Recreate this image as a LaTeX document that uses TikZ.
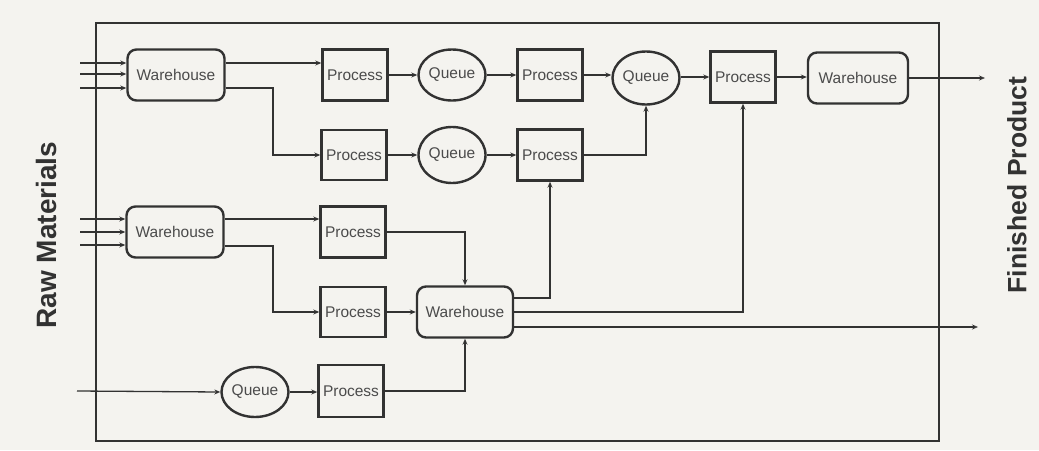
\documentclass[tikz,border=0pt]{standalone}
\usepackage{fontspec}
\setmainfont{Liberation Sans}
\usetikzlibrary{arrows.meta,shapes.geometric,calc}
\definecolor{paper}{RGB}{244,243,239}
\definecolor{ink}{RGB}{50,50,50}
\definecolor{txt}{RGB}{75,75,75}
\tikzset{
  box/.style={draw=ink, line width=2.4pt, text=txt, inner sep=0pt,
    font=\fontsize{15.5}{17}\selectfont},
  procbox/.style={box, rectangle, minimum width=65pt, minimum height=51pt},
  whbox/.style={box, rectangle, rounded corners=9pt, minimum width=97pt, minimum height=51pt},
  qbox/.style={box, ellipse, minimum width=67pt, minimum height=51pt},
  arr/.style={draw=ink, line width=1.9pt, -{Stealth[open,length=6pt,width=5pt,line width=0.8pt]}},
  thinarr/.style={arr, line width=1.3pt},
  sidelabel/.style={text=ink, font=\fontsize{28}{30}\selectfont\bfseries, rotate=90}
}
\begin{document}
\begin{tikzpicture}[x=1pt,y=-1pt]
\fill[paper] (0,0) rectangle (1039,450);
\useasboundingbox (0,0) rectangle (1039,450);
% frame
\draw[ink, line width=2.4pt] (96,23) rectangle (939,441);
% side labels
\node[sidelabel] (raw) at (46,235) {Raw Materials};
\node[sidelabel, font=\fontsize{26.5}{30}\selectfont\bfseries] (fin) at (1017,185) {Finished Product};
% nodes
\node[whbox] (w1) at (176,75) {Warehouse};
\node[whbox] (w2) at (175,232) {Warehouse};
\node[whbox, minimum width=96pt] (w3) at (465,312) {Warehouse};
\node[whbox, minimum width=100pt] (w4) at (858,78) {Warehouse};
\node[procbox] (p1) at (355,75) {Process};
\node[qbox] (q1) at (452,75) {Queue};
\node[procbox] (p2) at (550,75) {Process};
\node[qbox, minimum height=53pt] (q2) at (646,78) {Queue};
\node[procbox] (p3) at (743,77) {Process};
\node[procbox, minimum height=50pt] (p4) at (354,155) {Process};
\node[qbox, minimum height=56pt] (q3) at (452,155) {Queue};
\node[procbox] (p5) at (550,155) {Process};
\node[procbox] (p6) at (353,232) {Process};
\node[procbox, minimum height=50pt] (p7) at (353,312) {Process};
\node[procbox, minimum height=52pt] (p8) at (351,391) {Process};
\node[qbox, minimum height=50pt] (q4) at (255,392) {Queue};
% free ends
\coordinate (i1) at (80,63);
\coordinate (i2) at (80,74);
\coordinate (i3) at (80,88);
\coordinate (i4) at (80,219);
\coordinate (i5) at (80,232);
\coordinate (i6) at (80,245);
\coordinate (i7) at (77,391);
\coordinate (o1) at (985,78);
\coordinate (o2) at (978,327);
% inputs
\draw[thinarr] (i1) -- (i1 -| w1.west);
\draw[thinarr] (i2) -- (i2 -| w1.west);
\draw[thinarr] (i3) -- (i3 -| w1.west);
\draw[thinarr] (i4) -- (i4 -| w2.west);
\draw[thinarr] (i5) -- (i5 -| w2.west);
\draw[thinarr] (i6) -- (i6 -| w2.west);
\draw[thinarr] (i7) -- (q4.west);
% top rows
\draw[arr] ([yshift=12pt]w1.east) -- ([yshift=12pt]p1.west);
\draw[arr] ([yshift=-13pt]w1.east) -- ++(47,0) |- (p4.west);
\draw[arr] (p1) -- (q1);
\draw[arr] (q1) -- (p2);
\draw[arr] (p2.east) -- (p2.east -| q2.west);
\draw[arr] (q2.east |- p3.west) -- (p3.west);
\draw[arr] (p3.east) -- (p3.east -| w4.west);
\draw[thinarr] (w4.east) -- (o1);
\draw[arr] (p4) -- (q3);
\draw[arr] (q3) -- (p5);
\draw[arr] (p5.east) -| (q2.south);
% middle and bottom
\draw[arr] ([yshift=13pt]w2.east) -- ([yshift=13pt]p6.west);
\draw[arr] ([yshift=-14pt]w2.east) -- ++(48,0) |- (p7.west);
\draw[arr] (p6.east) -| (w3.north);
\draw[arr] (p7.east) -- (w3.west);
\draw[arr] (p8.east) -| (w3.south);
\draw[arr] (q4.east) -- (q4.east -| p8.west);
\draw[arr] ([yshift=14pt]w3.east) -| (p5.south);
\draw[arr] (w3.east) -| (p3.south);
\draw[thinarr] ([yshift=-15pt]w3.east) -- (o2);
\end{tikzpicture}
\end{document}
